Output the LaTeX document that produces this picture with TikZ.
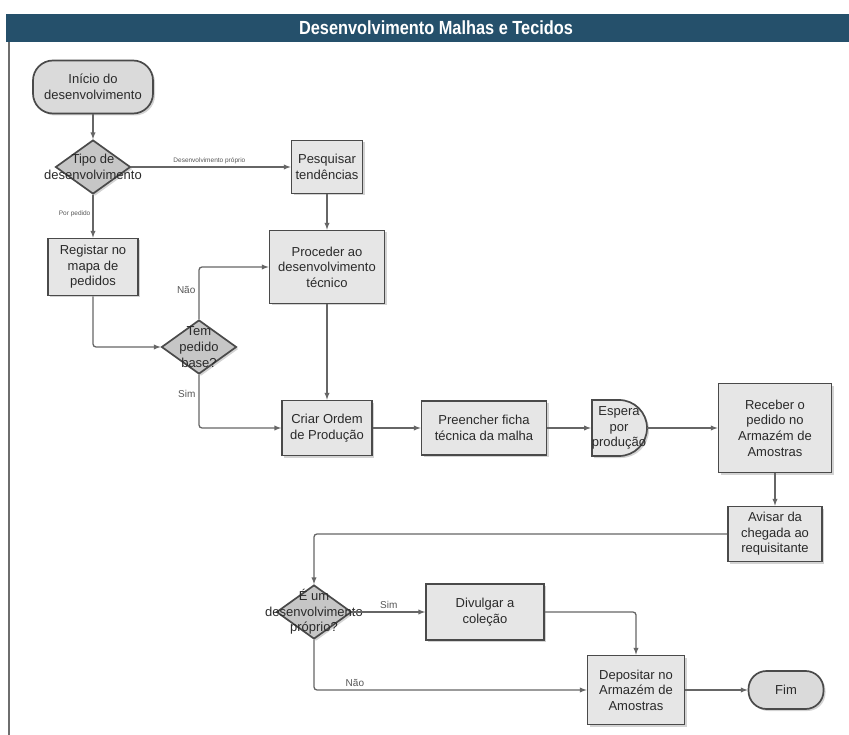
\documentclass[tikz,border=0pt]{standalone}
\usepackage{fontspec}
\setmainfont{Liberation Sans}
\newfontfamily\titlefont[FakeStretch=0.86]{Liberation Sans}
\usetikzlibrary{positioning,shapes.geometric,shadows,backgrounds}
\definecolor{barblue}{HTML}{25506B}
\definecolor{boxline}{HTML}{4A4A4A}
\definecolor{boxfill}{HTML}{E6E6E6}
\definecolor{decfill}{HTML}{C6C6C6}
\definecolor{wire}{HTML}{666666}
\definecolor{ink}{HTML}{2A2A2A}
\definecolor{labelgray}{HTML}{555555}

\begin{document}
\begin{tikzpicture}[x=1pt, y=1pt, -latex, on grid, line width=1.3pt, color=wire,
texto/.style ={text=ink, align=center, font=\fontsize{13}{15.6}\selectfont},
tarefa/.style ={texto, draw=boxline, fill=boxfill, line width=1.7pt, inner sep=2pt,
  drop shadow={shadow xshift=2pt, shadow yshift=-2pt, opacity=0.35}},
terminal/.style ={tarefa, fill=boxfill!95!black, rounded corners=18pt},
decisao/.style ={diamond, draw=boxline, fill=decfill, line width=1.7pt, inner sep=0pt,
  minimum width=75pt, minimum height=54pt,
  drop shadow={shadow xshift=2pt, shadow yshift=-2pt, opacity=0.35}},
rotulo/.style ={text=labelgray, font=\fontsize{6.5}{7}\selectfont, inner sep=2pt},
resposta/.style ={text=labelgray, font=\fontsize{10}{12}\selectfont, inner sep=3pt}]
\useasboundingbox (0,0) rectangle (849,-735);
% title bar and frame
\fill[barblue] (6,-14) rectangle (849,-42);
\node[text=white, font=\titlefont\bfseries\fontsize{19}{20}\selectfont] (titulo) at (436,-28)
{Desenvolvimento Malhas e Tecidos};
\draw[-, boxline!80, line width=1.2pt] (9,-42) -- (9,-735);
% first column
\node[terminal, minimum width=120pt, minimum height=53pt, rounded corners=20pt] (inicio)
at (93,-87) {Início do\\desenvolvimento};
\node[decisao, label={[texto]center:Tipo de\\desenvolvimento}] (tipo) [below=80pt of inicio] {};
\node[tarefa, minimum width=71pt, minimum height=53pt] (pesquisar) [right=234pt of tipo]
{Pesquisar\\tendências};
\node[tarefa, minimum width=90pt, minimum height=57pt] (registar) [below=100pt of tipo]
{Registar no\\mapa de\\pedidos};
\node[tarefa, minimum width=115pt, minimum height=73pt] (proceder) [below=100pt of pesquisar]
{Proceder ao\\desenvolvimento\\técnico};
\node[decisao, label={[texto]center:Tem\\pedido\\base?}] (base)
[below right=80pt and 106pt of registar] {};
\path (inicio) edge (tipo);
\path (tipo) edge node[rotulo, above, pos=0.49] {Desenvolvimento próprio} (pesquisar);
\path (tipo) edge node[rotulo, left, pos=0.44] {Por pedido} (registar);
\path (pesquisar) edge (proceder);
\draw[rounded corners=3pt] (registar) |- (base);
\draw[rounded corners=3pt] (base) |- node[resposta, left, pos=0.28] {Não} (proceder);
% production row
\node[tarefa, minimum width=90pt, minimum height=55pt] (criar) [below=161pt of proceder]
{Criar Ordem\\de Produção};
\node[tarefa, minimum width=125pt, minimum height=54pt] (preencher) [right=157pt of criar]
{Preencher ficha\\técnica da malha};
\coordinate[right=135pt of preencher] (esperac);
\begin{scope}[on background layer]
\draw[-, draw=boxline, fill=boxfill, line width=1.7pt,
  drop shadow={shadow xshift=2pt, shadow yshift=-2pt, opacity=0.35}]
  (esperac) ++(-27,28) -- ++(27,0) arc[start angle=90, end angle=-90, radius=28]
  -- ++(-27,0) -- cycle;
\end{scope}
\node[texto, minimum width=55pt, minimum height=56pt, inner sep=0pt] (espera) at (esperac)
{Espera\\por\\produção};
\node[tarefa, minimum width=113pt, minimum height=89pt] (receber) [right=156pt of espera]
{Receber o\\pedido no\\Armazém de\\Amostras};
\node[tarefa, minimum width=94pt, minimum height=55pt] (avisar) [below=106pt of receber]
{Avisar da\\chegada ao\\requisitante};
\draw[rounded corners=3pt] (base) |- node[resposta, left, pos=0.18] {Sim} (criar);
\path (proceder) edge (criar);
\path (criar) edge (preencher);
\path (preencher) edge (espera);
\path (espera) edge (receber);
\path (receber) edge (avisar);
% closing part
\node[decisao, label={[texto]center:É um\\desenvolvimento\\próprio?}] (proprio)
[below left=78pt and 461pt of avisar] {};
\node[tarefa, minimum width=118pt, minimum height=56pt] (divulgar) [right=171pt of proprio]
{Divulgar a\\coleção};
\node[tarefa, minimum width=97pt, minimum height=69pt] (depositar)
[below right=78pt and 151pt of divulgar] {Depositar no\\Armazém de\\Amostras};
\node[terminal, minimum width=75pt, minimum height=38pt] (fim) [right=150pt of depositar] {Fim};
\draw[rounded corners=3pt] (avisar) -| (proprio);
\path (proprio) edge node[resposta, above] {Sim} (divulgar);
\draw[rounded corners=3pt] (divulgar) -| (depositar);
\draw[rounded corners=3pt] (proprio) |- node[resposta, above, pos=0.575] {Não} (depositar);
\path (depositar) edge (fim);
\end{tikzpicture}
\end{document}
